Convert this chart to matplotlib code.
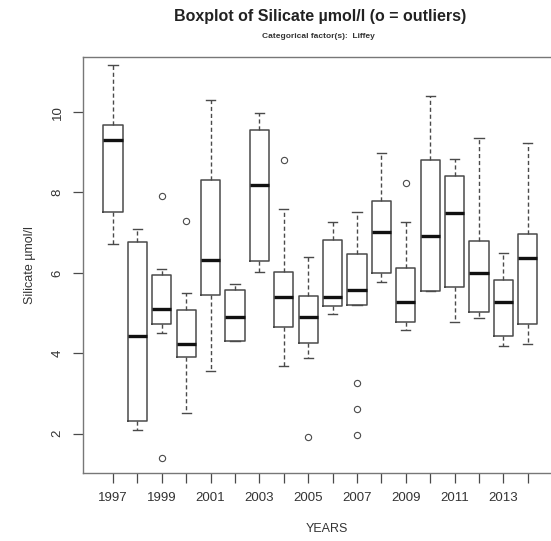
import matplotlib.pyplot as plt

# Silicate boxplot stats (umol/l)
years = list(range(1997, 2015))
whisker_low = [6.71, 2.08, 4.51, 2.52, 3.55, 4.31, 6.03, 3.68, 3.88, 4.97, 5.21, 5.76, 4.57, 5.55, 4.77, 4.88, 4.18, 4.23]
q1 = [7.51, 2.31, 4.72, 3.91, 5.46, 4.31, 6.30, 4.66, 4.26, 5.17, 5.21, 5.99, 4.77, 5.55, 5.65, 5.02, 4.42, 4.72]
medians = [9.31, 4.44, 5.11, 4.24, 6.32, 4.89, 8.19, 5.40, 4.89, 5.39, 5.57, 7.02, 5.27, 6.92, 7.50, 5.99, 5.27, 6.36]
q3 = [9.68, 6.76, 5.95, 5.07, 8.31, 5.57, 9.56, 6.02, 5.42, 6.82, 6.47, 7.79, 6.11, 8.81, 8.41, 6.78, 5.82, 6.97]
whisker_high = [11.18, 7.09, 6.09, 5.49, 10.29, 5.72, 9.97, 7.58, 6.40, 7.26, 7.51, 8.97, 7.26, 10.41, 8.83, 9.35, 6.50, 9.24]
outliers = [[], [], [7.90, 1.39], [7.28], [], [], [], [8.81], [1.92], [], [3.26, 2.61, 1.96], [], [8.23], [], [], [], [], []]

stats = []
for i in range(len(years)):
    stats.append({'whislo': whisker_low[i], 'q1': q1[i], 'med': medians[i], 'q3': q3[i],
                  'whishi': whisker_high[i], 'fliers': outliers[i], 'label': str(years[i])})

line_col = '#4a4a4a'
W, H = 551, 541
fig = plt.figure(figsize=(W / 100, H / 100), dpi=100)
plt.rcParams['font.family'] = ['Liberation Sans', 'DejaVu Sans']

# axes box in pixels: left 83, top 57, bottom 473; right side runs past the image edge
ax = fig.add_axes([83 / W, (H - 473) / H, (570 - 83) / W, (473 - 57) / H])

pos = list(range(1, len(years) + 1))
ax.bxp(stats, positions=pos, widths=0.78,
       boxprops=dict(color=line_col, linewidth=1.1),
       medianprops=dict(color='#111111', linewidth=2.4),
       whiskerprops=dict(color=line_col, linewidth=1.0, linestyle=(0, (3, 2))),
       capprops=dict(color=line_col, linewidth=1.0),
       flierprops=dict(marker='o', markersize=4.5, markerfacecolor='none',
                       markeredgecolor=line_col, markeredgewidth=0.8),
       capwidths=0.38)

ax.set_xlim(-0.23, 1 + (570 - 113) / 24.4)
ax.set_ylim(1.02, 11.37)

ax.set_xticks(pos)
ax.set_xticklabels([str(y) if (y - 1997) % 2 == 0 else '' for y in years])
ax.set_yticks([2, 4, 6, 8, 10])
ax.set_yticklabels(['2', '4', '6', '8', '10'], rotation=90, va='center')
ax.tick_params(axis='both', length=7, width=0.9, color=line_col, labelsize=9.5,
               labelcolor='#333333', pad=7)
for s in ax.spines.values():
    s.set_color('#777777')
    s.set_linewidth(1.0)

ax.set_xlabel('YEARS', fontsize=9, color='#333333', labelpad=13)
ax.set_ylabel('Silicate µmol/l', fontsize=9, color='#333333', labelpad=11)

fig.text(320 / W, 1 - 16 / H, 'Boxplot of Silicate µmol/l (o = outliers)', ha='center', va='center',
         fontsize=11.5, fontweight='bold', color='#222222')
fig.text(318 / W, 1 - 36 / H, 'Categorical factor(s):  Liffey', ha='center', va='center',
         fontsize=6, fontweight='bold', color='#333333')

fig.savefig('out.png', dpi=100)
